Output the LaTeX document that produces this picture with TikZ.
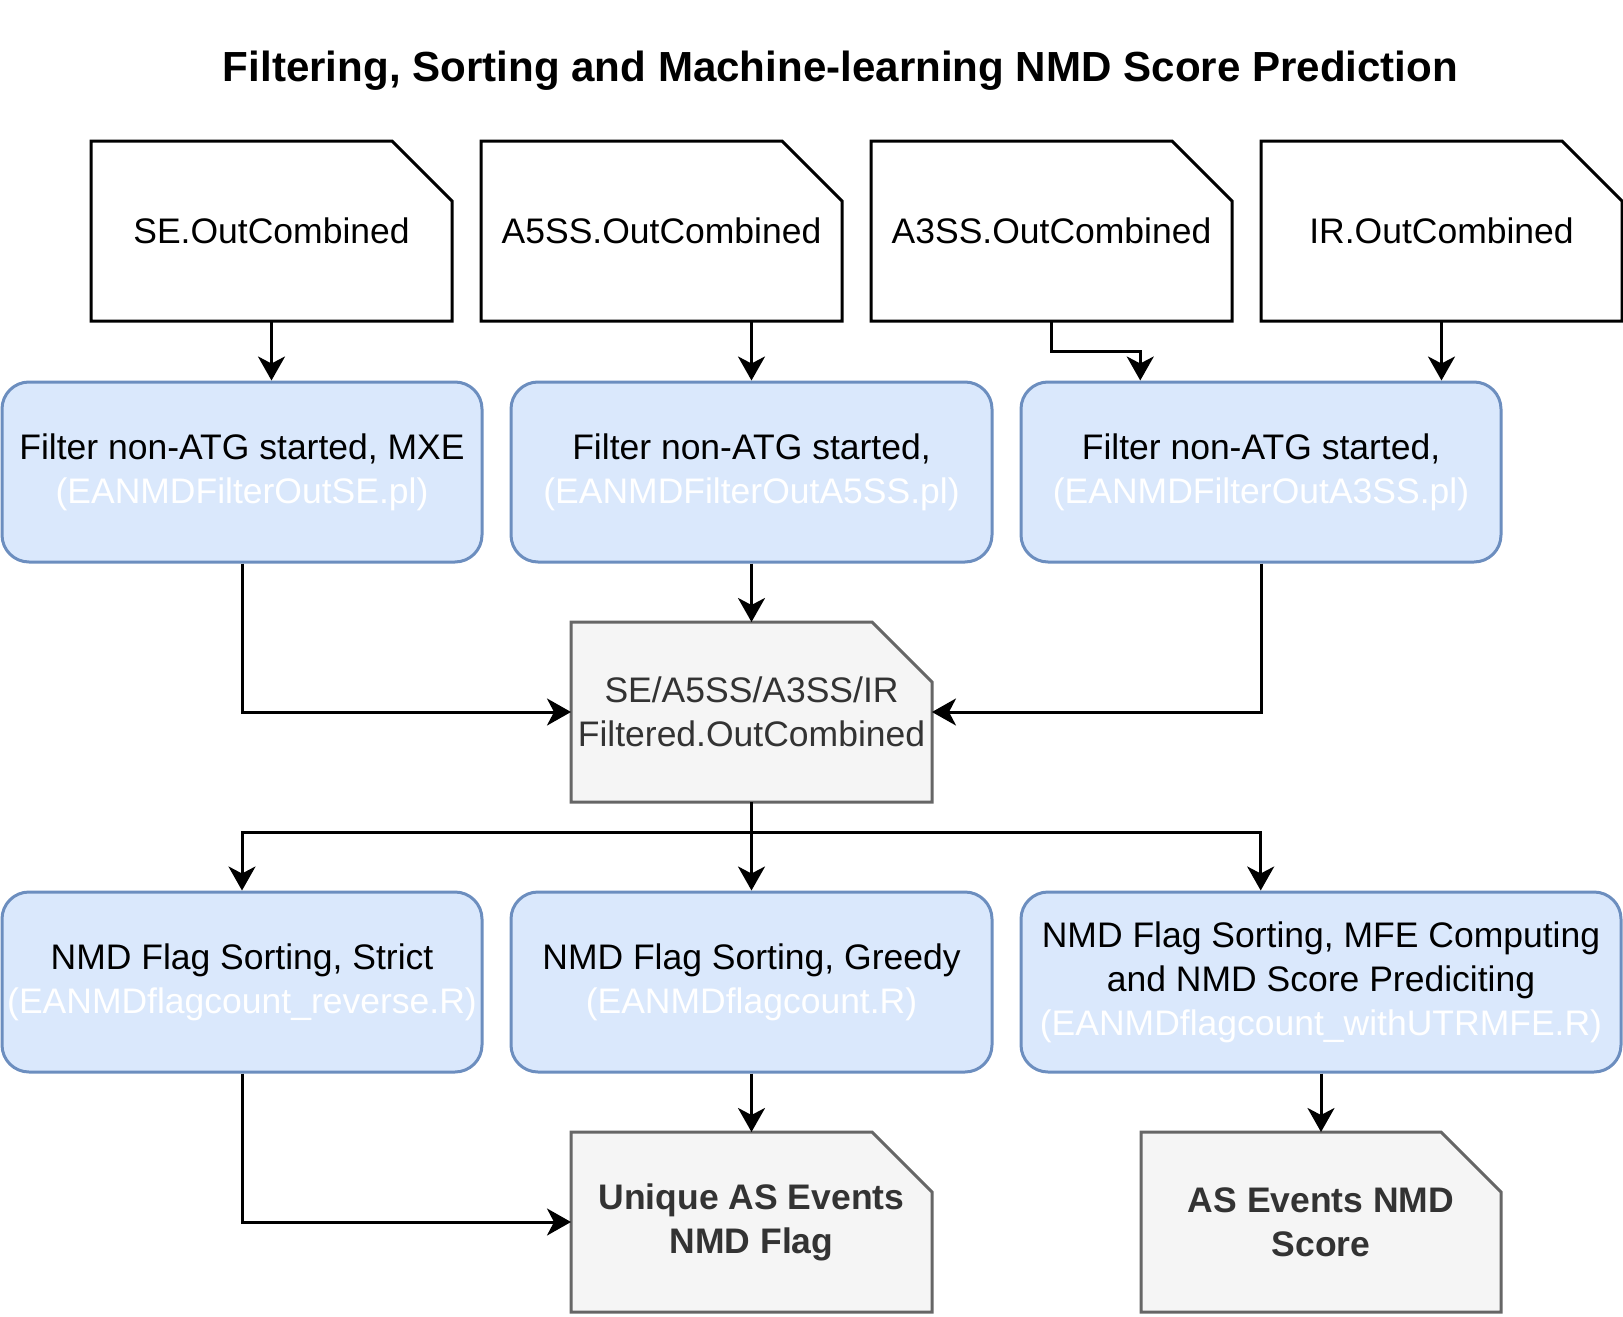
\documentclass[tikz,border=0pt]{standalone}
\usepackage{fontspec}
\setmainfont{Liberation Sans}
\usetikzlibrary{arrows.meta,calc}
\definecolor{blueFill}{HTML}{DAE8FC}
\definecolor{blueLine}{HTML}{6C8EBF}
\definecolor{greyFill}{HTML}{F5F5F5}
\definecolor{greyLine}{HTML}{666666}
\definecolor{greyText}{HTML}{333333}
\newcommand\bodyfont{\fontsize{17.75}{22}\selectfont}
\newcommand\scriptname[1]{\textcolor{white}{#1}}
\newcommand\docoutline[2]{%
  \filldraw[#2] (#1.south west) -- (#1.north west) -- ([xshift=-30pt]#1.north east)
    -- ([yshift=-30pt]#1.north east) -- (#1.south east) -- cycle;}
\pgfdeclarelayer{bg}
\pgfsetlayers{bg,main}
\tikzset{
  docbase/.style={rectangle, outer sep=0pt, minimum width=180.5pt, minimum height=90pt,
    inner sep=0pt, align=center, font=\bodyfont},
  indoc/.style={docbase},
  outdoc/.style={docbase, text=greyText},
  inline/.style={draw=black, fill=white, line width=1.5pt},
  outline/.style={draw=greyLine, fill=greyFill, line width=1.5pt},
  stepbox/.style={rectangle, rounded corners=13.5pt, draw=blueLine, fill=blueFill,
    line width=1.5pt, minimum width=240pt, minimum height=90pt,
    inner sep=0pt, align=center, font=\bodyfont},
  arr/.style={line width=1.5pt, -{Stealth[length=12pt,width=13.5pt,inset=3.5pt]}}
}
\begin{document}
\begin{tikzpicture}[x=0.5pt,y=-0.5pt]
\useasboundingbox (0,0) rectangle (1623,1317);
% title
\node[anchor=base, font=\fontsize{21.05}{26}\selectfont\bfseries, inner sep=0pt] (title) at (840.5,81)
  {Filtering, Sorting and Machine-learning NMD Score Prediction};
% input documents
\node[indoc] (se) at (271.5,231) {SE.OutCombined};
\node[indoc] (a5) at (661.5,231) {A5SS.OutCombined};
\node[indoc] (a3) at (1051.5,231) {A3SS.OutCombined};
\node[indoc] (ir) at (1441.5,231) {IR.OutCombined};
% filter steps
\node[stepbox] (b1) at (242,472) {Filter non-ATG started, MXE\\\scriptname{(EANMDFilterOutSE.pl)}};
\node[stepbox, minimum width=240.5pt] (b2) at (751.5,472) {Filter non-ATG started,\\\scriptname{(EANMDFilterOutA5SS.pl)}};
\node[stepbox] (b3) at (1261,472) {Filter non-ATG started,\\\scriptname{(EANMDFilterOutA3SS.pl)}};
% merged document
\node[outdoc] (mid) at (751.5,712) {SE/A5SS/A3SS/IR\\Filtered.OutCombined};
% sorting steps
\node[stepbox] (b4) at (242,982) {NMD Flag Sorting, Strict\\\scriptname{(EANMDflagcount\_reverse.R)}};
\node[stepbox, minimum width=240.5pt] (b5) at (751.5,982) {NMD Flag Sorting, Greedy\\\scriptname{(EANMDflagcount.R)}};
\node[stepbox, minimum width=300pt] (b6) at (1321,982) {NMD Flag Sorting, MFE Computing\\and NMD Score Prediciting\\\scriptname{(EANMDflagcount\_withUTRMFE.R)}};
% outputs
\node[outdoc, font=\bodyfont\bfseries] (uniq) at (751.5,1222) {Unique AS Events\\NMD Flag};
\node[outdoc, font=\bodyfont\bfseries, minimum width=180pt] (score) at (1321,1222) {AS Events NMD\\Score};
% document outlines behind the texts
\begin{pgfonlayer}{bg}
\docoutline{se}{inline}
\docoutline{a5}{inline}
\docoutline{a3}{inline}
\docoutline{ir}{inline}
\docoutline{mid}{outline}
\docoutline{uniq}{outline}
\docoutline{score}{outline}
\end{pgfonlayer}
% connectors
\draw[arr] (se.south) -- (se.south |- b1.north);
\draw[arr] (b2.north |- a5.south) -- (b2.north);
\draw[arr] (a3.south) -- ++(0,30) -| ($(b3.north west)!0.25!(b3.north east)$);
\draw[arr] (ir.south) -- (ir.south |- b3.north);
\draw[arr] (b1.south) |- (mid.west);
\draw[arr] (b2.south) -- (mid.north);
\draw[arr] (b3.south) |- (mid.east);
\draw[arr] (mid.south) -- ++(0,30) -| (b4.north);
\draw[arr] (mid.south) -- (b5.north);
\draw[arr] (mid.south) ++(0,30) -| ($(b6.north west)!0.4!(b6.north east)$);
\draw[arr] (b4.south) |- (uniq.west);
\draw[arr] (b5.south) -- (uniq.north);
\draw[arr] (b6.south) -- (score.north);
\end{tikzpicture}
\end{document}
